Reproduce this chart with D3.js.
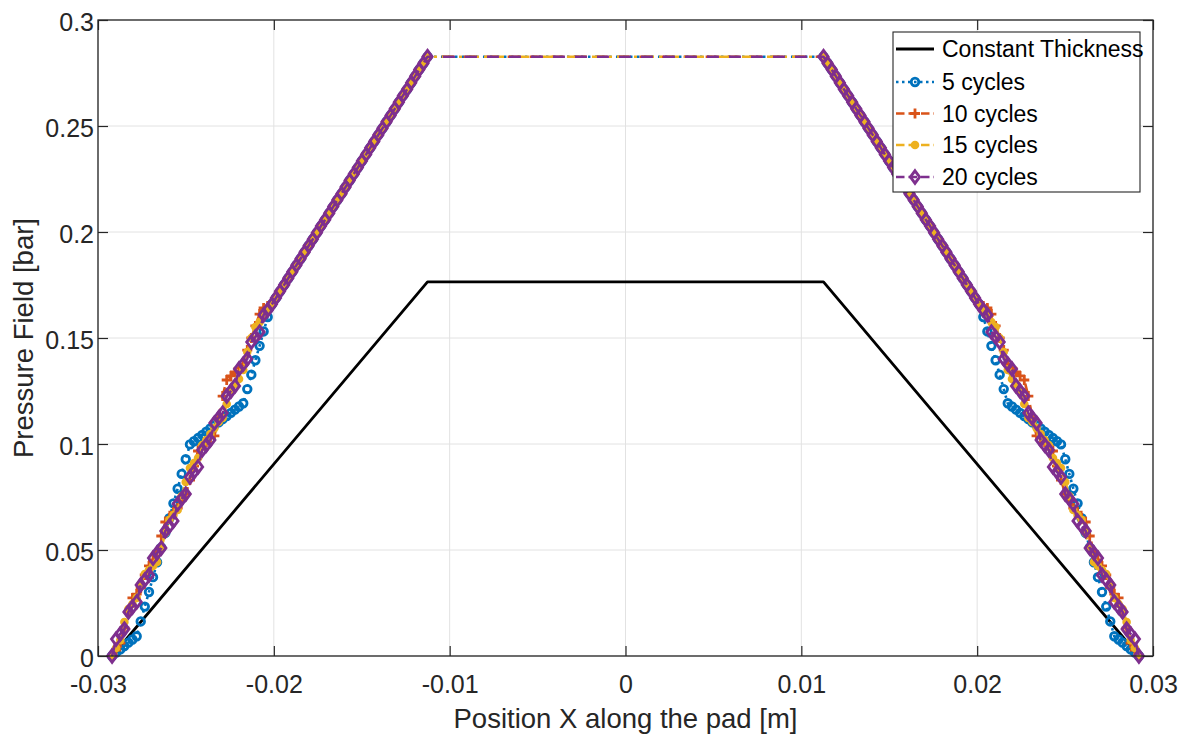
<!DOCTYPE html>
<html>
<head>
<meta charset="utf-8">
<script src="https://cdn.jsdelivr.net/npm/d3@7"></script>
<style>
  html, body { margin: 0; padding: 0; background: #ffffff; }
  svg { display: block; font-family: "Liberation Sans", Arial, Helvetica, sans-serif; }
</style>
</head>
<body>
<svg id="chart" width="1182" height="735"></svg>
<script>
// ---- Data -------------------------------------------------------------
// Mesh node positions on the left flank of the pad [m]; the pad is
// symmetric about x = 0, so the right flank uses the same nodes mirrored.
const xFlankLower = [
  -0.02920, -0.02897, -0.02873, -0.02850, -0.02827, -0.02804, -0.02780, -0.02757,
  -0.02734, -0.02710, -0.02687, -0.02664, -0.02640, -0.02617, -0.02594, -0.02571,
  -0.02547, -0.02524, -0.02501, -0.02477, -0.02454, -0.02431, -0.02407, -0.02384,
  -0.02361, -0.02338, -0.02314, -0.02291, -0.02268, -0.02244, -0.02221, -0.02198,
  -0.02174, -0.02151, -0.02128, -0.02105, -0.02081, -0.02058, -0.02035
];
const xFlankUpper = [
  -0.02011, -0.01988, -0.01965, -0.01941, -0.01918, -0.01895, -0.01872, -0.01848,
  -0.01825, -0.01802, -0.01778, -0.01755, -0.01732, -0.01708, -0.01685, -0.01662,
  -0.01639, -0.01615, -0.01592, -0.01569, -0.01545, -0.01522, -0.01499, -0.01475,
  -0.01452, -0.01429, -0.01406, -0.01382, -0.01359, -0.01336, -0.01312, -0.01289,
  -0.01266, -0.01242, -0.01219, -0.01196, -0.01173, -0.01149, -0.01126
];

// Upper flank pressure [bar], identical for every cycle count
const pFlankUpper = [
  0.1659, 0.1689, 0.1720, 0.1751, 0.1782, 0.1812, 0.1843, 0.1874,
  0.1905, 0.1935, 0.1966, 0.1997, 0.2028, 0.2058, 0.2089, 0.2120,
  0.2151, 0.2181, 0.2212, 0.2243, 0.2274, 0.2304, 0.2335, 0.2366,
  0.2397, 0.2427, 0.2458, 0.2489, 0.2520, 0.2550, 0.2581, 0.2612,
  0.2643, 0.2673, 0.2704, 0.2735, 0.2766, 0.2796, 0.2827
];

// Lower flank pressure [bar] per number of wear cycles
const pLower5 = [
  0.0000, 0.0016, 0.0031, 0.0047, 0.0063, 0.0078, 0.0093, 0.0163,
  0.0233, 0.0302, 0.0372, 0.0442, 0.0511, 0.0581, 0.0650, 0.0720,
  0.0789, 0.0859, 0.0928, 0.0998, 0.1013, 0.1028, 0.1043, 0.1058,
  0.1073, 0.1088, 0.1102, 0.1118, 0.1132, 0.1147, 0.1162, 0.1177,
  0.1192, 0.1259, 0.1327, 0.1395, 0.1463, 0.1531, 0.1599
];
const pLower10 = [
  0.0000, 0.0028, 0.0061, 0.0132, 0.0208, 0.0274, 0.0292, 0.0321,
  0.0382, 0.0425, 0.0453, 0.0491, 0.0566, 0.0632, 0.0651, 0.0679,
  0.0698, 0.0736, 0.0764, 0.0830, 0.0896, 0.0967, 0.0991, 0.1009,
  0.1028, 0.1038, 0.1123, 0.1226, 0.1302, 0.1321, 0.1340, 0.1358,
  0.1377, 0.1443, 0.1500, 0.1557, 0.1613, 0.1642, 0.1651
];
const pLower15 = [
  0.0000, 0.0038, 0.0075, 0.0160, 0.0222, 0.0245, 0.0274, 0.0340,
  0.0387, 0.0406, 0.0425, 0.0443, 0.0509, 0.0580, 0.0642, 0.0665,
  0.0689, 0.0755, 0.0821, 0.0887, 0.0910, 0.0934, 0.0995, 0.1019,
  0.1047, 0.1075, 0.1104, 0.1123, 0.1189, 0.1255, 0.1283, 0.1307,
  0.1349, 0.1434, 0.1500, 0.1552, 0.1575, 0.1604, 0.1632
];
const pLower20 = [
  0.0000, 0.0080, 0.0104, 0.0127, 0.0208, 0.0231, 0.0255, 0.0335,
  0.0358, 0.0382, 0.0462, 0.0486, 0.0509, 0.0590, 0.0613, 0.0637,
  0.0717, 0.0741, 0.0764, 0.0844, 0.0868, 0.0892, 0.0972, 0.0995,
  0.1019, 0.1099, 0.1123, 0.1146, 0.1226, 0.1250, 0.1274, 0.1354,
  0.1377, 0.1401, 0.1481, 0.1505, 0.1528, 0.1609, 0.1632
];

// Reference pad of constant thickness
const thicknessX = [-0.0292, -0.01126, 0.01126, 0.0292];
const thicknessP = [0, 0.1765, 0.1765, 0];

const seriesNames = ["Constant Thickness", "5 cycles", "10 cycles", "15 cycles", "20 cycles"];
const xTicks = [-0.03, -0.02, -0.01, 0, 0.01, 0.02, 0.03];
const xTickLabels = ["-0.03", "-0.02", "-0.01", "0", "0.01", "0.02", "0.03"];
const yTicks = [0, 0.05, 0.1, 0.15, 0.2, 0.25, 0.3];
const yTickLabels = ["0", "0.05", "0.1", "0.15", "0.2", "0.25", "0.3"];

// ---- Layout & scales --------------------------------------------------
const plot = { left: 98, right: 1153, top: 20, bottom: 656 };
const axisColor = "#262626";
const gridColor = "#e2e2e2";

const x = d3.scaleLinear().domain([-0.03, 0.03]).range([plot.left, plot.right]);
const y = d3.scaleLinear().domain([0, 0.3]).range([plot.bottom, plot.top]);

const svg = d3.select("#chart");

// Full pad profile: left flank, flat top, mirrored right flank
function profile(lower) {
  const xs = xFlankLower.concat(xFlankUpper);
  const ps = lower.concat(pFlankUpper);
  const left = xs.map((v, i) => ({ x: v, p: ps[i] }));
  const right = left.slice().reverse().map(d => ({ x: -d.x, p: d.p }));
  return left.concat(right);
}

// ---- Grid -------------------------------------------------------------
const grid = svg.append("g");
grid.selectAll("line.gx").data(xTicks).join("line")
  .attr("x1", d => x(d)).attr("x2", d => x(d))
  .attr("y1", plot.top).attr("y2", plot.bottom)
  .attr("stroke", gridColor).attr("stroke-width", 1);
grid.selectAll("line.gy").data(yTicks).join("line")
  .attr("x1", plot.left).attr("x2", plot.right)
  .attr("y1", d => y(d)).attr("y2", d => y(d))
  .attr("stroke", gridColor).attr("stroke-width", 1);

// ---- Series -----------------------------------------------------------
const lineGen = d3.line().x(d => x(d.x)).y(d => y(d.p));

const styles = [
  { color: "#000000", dash: null, marker: null, width: 2.8 },
  { color: "#0072BD", dash: "2.5,4.5", marker: "circle", width: 2.6 },
  { color: "#D95319", dash: "12,10", marker: "plus", width: 2.6 },
  { color: "#EDB120", dash: "12,5,3,5", marker: "dot", width: 2.6 },
  { color: "#7E2F8E", dash: "12,10", marker: "diamond", width: 2.6 }
];

const seriesData = [
  thicknessX.map((v, i) => ({ x: v, p: thicknessP[i] })),
  profile(pLower5),
  profile(pLower10),
  profile(pLower15),
  profile(pLower20)
];

function drawMarker(sel, kind, color) {
  if (kind === "circle") {
    sel.append("circle").attr("r", 3.8)
      .attr("fill", "none").attr("stroke", color).attr("stroke-width", 2.8);
  } else if (kind === "plus") {
    sel.append("path").attr("d", "M-5,0H5M0,-5V5")
      .attr("fill", "none").attr("stroke", color).attr("stroke-width", 2.8);
  } else if (kind === "dot") {
    sel.append("circle").attr("r", 4.3).attr("fill", color);
  } else if (kind === "diamond") {
    sel.append("path").attr("d", "M0,-6.2L4.6,0L0,6.2L-4.6,0Z")
      .attr("fill", "none").attr("stroke", color).attr("stroke-width", 2.9)
      .attr("stroke-linejoin", "miter");
  }
}

const seriesLayer = svg.append("g");
seriesData.forEach((data, k) => {
  const st = styles[k];
  const g = seriesLayer.append("g").attr("class", "series");
  g.append("path")
    .attr("d", lineGen(data))
    .attr("fill", "none")
    .attr("stroke", st.color)
    .attr("stroke-width", st.width)
    .attr("stroke-dasharray", st.dash)
    .attr("stroke-linejoin", "round");
  if (st.marker) {
    g.selectAll("g.m").data(data).join("g")
      .attr("class", "m")
      .attr("transform", d => `translate(${x(d.x)},${y(d.p)})`)
      .each(function () { drawMarker(d3.select(this), st.marker, st.color); });
  }
});

// ---- Axes -------------------------------------------------------------
const fontTick = "25px";

const axB = svg.append("g").attr("transform", `translate(0,${plot.bottom})`)
  .call(d3.axisBottom(x).tickValues(xTicks).tickFormat((d, i) => xTickLabels[i])
    .tickSizeInner(-10).tickSizeOuter(0).tickPadding(19));
const axT = svg.append("g").attr("transform", `translate(0,${plot.top})`)
  .call(d3.axisTop(x).tickValues(xTicks).tickFormat("")
    .tickSizeInner(-10).tickSizeOuter(0));
const axL = svg.append("g").attr("transform", `translate(${plot.left},0)`)
  .call(d3.axisLeft(y).tickValues(yTicks).tickFormat((d, i) => yTickLabels[i])
    .tickSizeInner(-10).tickSizeOuter(0).tickPadding(4));
const axR = svg.append("g").attr("transform", `translate(${plot.right},0)`)
  .call(d3.axisRight(y).tickValues(yTicks).tickFormat("")
    .tickSizeInner(-10).tickSizeOuter(0));

[axB, axT, axL, axR].forEach(a => {
  a.select(".domain").remove();
  a.selectAll(".tick line").attr("stroke", axisColor).attr("stroke-width", 1.2);
  a.selectAll(".tick text").attr("fill", axisColor)
    .style("font-size", fontTick)
    .style("font-family", '"Liberation Sans", Arial, sans-serif');
});
axL.selectAll(".tick text").attr("dy", "0.42em");

// Box around the plotting area
svg.append("rect")
  .attr("x", plot.left).attr("y", plot.top)
  .attr("width", plot.right - plot.left).attr("height", plot.bottom - plot.top)
  .attr("fill", "none").attr("stroke", axisColor).attr("stroke-width", 1.3);

// Axis titles
svg.append("text")
  .attr("x", (plot.left + plot.right) / 2).attr("y", 728)
  .attr("text-anchor", "middle").attr("fill", axisColor)
  .style("font-size", "27.5px")
  .text("Position X along the pad [m]");
svg.append("text")
  .attr("transform", `translate(33,${(plot.top + plot.bottom) / 2}) rotate(-90)`)
  .attr("text-anchor", "middle").attr("fill", axisColor)
  .style("font-size", "27.5px")
  .text("Pressure Field [bar]");

// ---- Legend -----------------------------------------------------------
const legend = svg.append("g");
legend.append("rect")
  .attr("x", 893).attr("y", 32).attr("width", 247).attr("height", 160)
  .attr("fill", "#ffffff").attr("stroke", axisColor).attr("stroke-width", 1.1);

const legendRows = [49, 82, 113.5, 145, 177];
seriesNames.forEach((name, k) => {
  const st = styles[k];
  const row = legend.append("g").attr("transform", `translate(0,${legendRows[k]})`);
  row.append("line")
    .attr("x1", 896).attr("x2", 934).attr("y1", 0).attr("y2", 0)
    .attr("stroke", st.color).attr("stroke-width", st.width)
    .attr("stroke-dasharray", k === 0 ? null : (k === 1 ? "2.5,3.5" : "8.5,4"));
  if (st.marker) {
    const m = row.append("g").attr("transform", "translate(915,0)");
    drawMarker(m, st.marker, st.color);
  }
  row.append("text")
    .attr("x", 942).attr("y", 0).attr("dy", "0.36em")
    .attr("fill", "#000000")
    .style("font-size", "23px")
    .text(name);
});
</script>
</body>
</html>
